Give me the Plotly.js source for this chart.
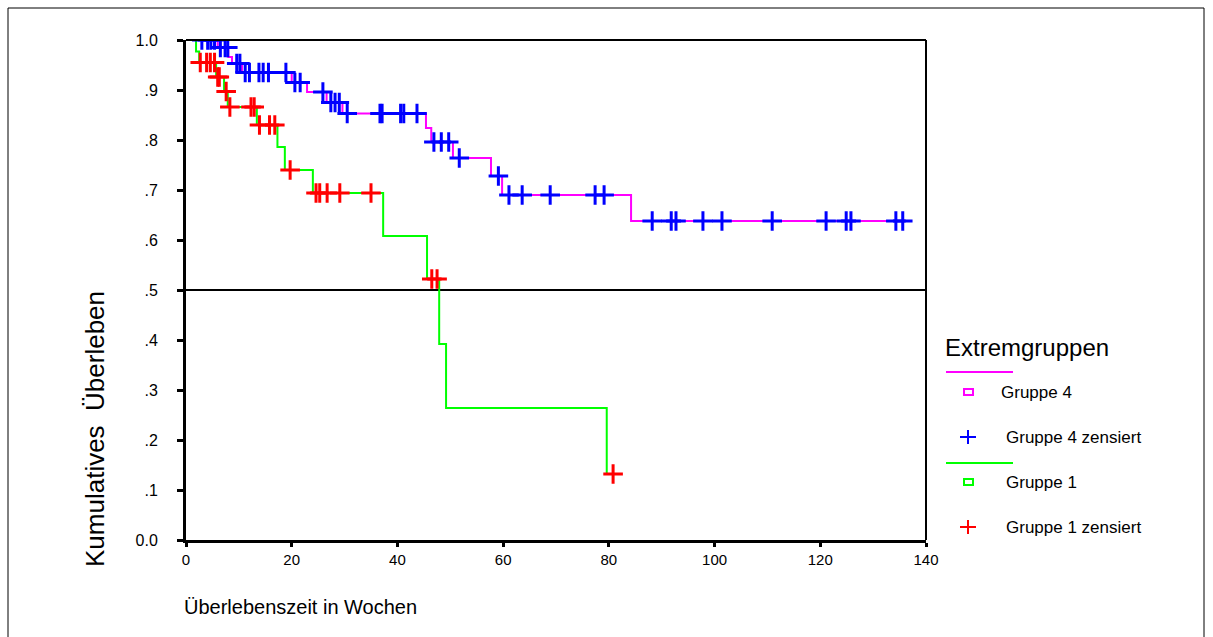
<!DOCTYPE html>
<html>
<head>
<meta charset="utf-8">
<script src="https://cdn.plot.ly/plotly-3.0.1.min.js"></script>
<style>
  html, body { margin: 0; padding: 0; background: #ffffff; }
  #chart { width: 1213px; height: 637px; }
</style>
</head>
<body>
<div id="chart"></div>
<script>
// ---------- data ----------
// Gruppe 4: Kaplan-Meier step function
var g4Time = [0, 6.0, 8.0, 8.7, 10.6, 20.0, 22.9, 26.6, 29.6, 45.4, 46.4, 50.5, 57.7, 59.8, 84.2, 135.6];
var g4Surv = [1.0, 0.985, 0.966, 0.953, 0.935, 0.915, 0.896, 0.875, 0.853, 0.824, 0.796, 0.764, 0.728, 0.690, 0.638, 0.638];
// Gruppe 4: censored cases
var g4CensTime = [3.0, 4.1, 4.7, 5.4, 6.5, 7.4, 7.9, 9.6, 10.2, 11.2, 12.0, 13.8, 14.6, 15.6, 18.9, 20.6, 21.6,
                  25.9, 27.4, 28.2, 29.0, 30.5, 36.7, 37.1, 40.6, 41.2, 43.7, 46.9, 48.3, 49.7, 51.7, 59.1,
                  61.1, 63.6, 68.9, 77.4, 79.1, 88.2, 91.8, 92.7, 97.8, 101.4, 110.9, 121.1, 124.9, 125.8, 134.3, 135.6];
var g4CensSurv = [1.0, 1.0, 1.0, 1.0, 0.985, 0.985, 0.985, 0.953, 0.953, 0.935, 0.935, 0.935, 0.935, 0.935, 0.935, 0.915, 0.915,
                  0.896, 0.875, 0.875, 0.875, 0.853, 0.853, 0.853, 0.853, 0.853, 0.853, 0.796, 0.796, 0.796, 0.764, 0.728,
                  0.690, 0.690, 0.690, 0.690, 0.690, 0.638, 0.638, 0.638, 0.638, 0.638, 0.638, 0.638, 0.638, 0.638, 0.638, 0.638];

// Gruppe 1: Kaplan-Meier step function
var g1Time = [0, 1.9, 2.5, 5.7, 7.2, 7.9, 13.4, 17.3, 18.7, 24.0, 37.3, 45.6, 47.9, 49.2, 79.6, 80.8];
var g1Surv = [1.0, 0.977, 0.955, 0.926, 0.897, 0.866, 0.830, 0.786, 0.740, 0.694, 0.608, 0.522, 0.392, 0.264, 0.132, 0.132];
// Gruppe 1: censored cases
var g1CensTime = [2.7, 3.9, 4.6, 5.4, 6.0, 6.3, 7.6, 8.3, 12.3, 12.9, 13.9, 15.8, 16.8, 19.7,
                  24.6, 25.3, 26.7, 29.1, 35.0, 46.5, 47.5, 80.8];
var g1CensSurv = [0.955, 0.955, 0.955, 0.955, 0.926, 0.926, 0.897, 0.866, 0.866, 0.866, 0.830, 0.830, 0.830, 0.740,
                  0.694, 0.694, 0.694, 0.694, 0.694, 0.522, 0.522, 0.132];

var medianLevel = 0.5;
var xTickVals = [0, 20, 40, 60, 80, 100, 120, 140];
var xTickText = ['0', '20', '40', '60', '80', '100', '120', '140'];
var yTickVals = [0, 0.1, 0.2, 0.3, 0.4, 0.5, 0.6, 0.7, 0.8, 0.9, 1.0];
var yTickText = ['0.0', '.1', '.2', '.3', '.4', '.5', '.6', '.7', '.8', '.9', '1.0'];

var legendTitle = 'Extremgruppen';
var legendLabels = ['Gruppe 4', 'Gruppe 4 zensiert', 'Gruppe 1', 'Gruppe 1 zensiert'];

// ---------- colours ----------
var MAGENTA = '#ff00ff', BLUE = '#0000ff', GREEN = '#00ff00', RED = '#ff0000';
var FONT = 'Liberation Sans, Arial, sans-serif';

// ---------- geometry helpers (page pixels -> paper coords) ----------
var W = 1213, H = 637;
var L = 186, R = 926, T = 40, B = 540;
function px(x) { return (x - L) / (R - L); }
function py(y) { return (B - y) / (B - T); }

var traces = [
  { x: g4Time, y: g4Surv, mode: 'lines', line: { color: MAGENTA, width: 2, shape: 'hv' }, hoverinfo: 'skip' },
  { x: g1Time, y: g1Surv, mode: 'lines', line: { color: GREEN, width: 2, shape: 'hv' }, hoverinfo: 'skip' },
  { x: g4CensTime, y: g4CensSurv, mode: 'markers',
    marker: { symbol: 'cross-thin', size: 14, color: BLUE, line: { color: BLUE, width: 3 } } },
  { x: g1CensTime, y: g1CensSurv, mode: 'markers',
    marker: { symbol: 'cross-thin', size: 14, color: RED, line: { color: RED, width: 3 } } }
];

var shapes = [
  // outer frame
  { type: 'rect', xref: 'paper', yref: 'paper', x0: px(8), x1: px(1204), y0: py(660), y1: py(8),
    line: { color: '#000', width: 1 } },
  // top & right plot border
  { type: 'line', xref: 'paper', yref: 'paper', x0: 0, x1: 1, y0: 1, y1: 1, line: { color: '#000', width: 2 } },
  { type: 'line', xref: 'paper', yref: 'paper', x0: 1, x1: 1, y0: 0, y1: 1, line: { color: '#000', width: 2 } },
  // median reference line
  { type: 'line', xref: 'paper', yref: 'y', x0: 0, x1: 1, y0: medianLevel, y1: medianLevel,
    line: { color: '#000', width: 2 }, layer: 'below' },
  // legend glyphs
  { type: 'line', xref: 'paper', yref: 'paper', x0: px(946), x1: px(1013), y0: py(372), y1: py(372), line: { color: MAGENTA, width: 2 } },
  { type: 'rect', xref: 'paper', yref: 'paper', x0: px(964), x1: px(973), y0: py(395), y1: py(389), line: { color: MAGENTA, width: 2 } },
  { type: 'line', xref: 'paper', yref: 'paper', x0: px(960), x1: px(976), y0: py(437), y1: py(437), line: { color: BLUE, width: 2 } },
  { type: 'line', xref: 'paper', yref: 'paper', x0: px(968), x1: px(968), y0: py(430), y1: py(444), line: { color: BLUE, width: 2 } },
  { type: 'line', xref: 'paper', yref: 'paper', x0: px(946), x1: px(1013), y0: py(463), y1: py(463), line: { color: GREEN, width: 2 } },
  { type: 'rect', xref: 'paper', yref: 'paper', x0: px(964), x1: px(973), y0: py(485), y1: py(479), line: { color: GREEN, width: 2 } },
  { type: 'line', xref: 'paper', yref: 'paper', x0: px(960), x1: px(976), y0: py(527), y1: py(527), line: { color: RED, width: 2 } },
  { type: 'line', xref: 'paper', yref: 'paper', x0: px(968), x1: px(968), y0: py(520), y1: py(534), line: { color: RED, width: 2 } }
];

function ann(text, x, y, size, extra) {
  var a = { text: text, xref: 'paper', yref: 'paper', x: px(x), y: py(y), showarrow: false,
            xanchor: 'left', yanchor: 'middle', font: { family: FONT, size: size, color: '#000' } };
  if (extra) for (var k in extra) a[k] = extra[k];
  return a;
}

var annotations = [
  ann(legendTitle, 943, 347, 24),
  ann(legendLabels[0], 999, 392, 17),
  ann(legendLabels[1], 1004, 437, 17),
  ann(legendLabels[2], 1004, 482, 17),
  ann(legendLabels[3], 1004, 527, 17),
  ann('Überlebenszeit in Wochen', 182, 607, 20),
  ann('Kumulatives  Überleben', 95, 429, 26, { textangle: -90, xanchor: 'center', yanchor: 'middle' })
];

var layout = {
  width: W, height: H,
  margin: { l: L, r: W - R, t: T, b: H - B, pad: 0 },
  paper_bgcolor: '#ffffff', plot_bgcolor: '#ffffff',
  showlegend: false,
  font: { family: FONT, color: '#000' },
  xaxis: {
    range: [0, 140], tickmode: 'array', tickvals: xTickVals, ticktext: xTickText,
    showgrid: false, zeroline: false, showline: true, linecolor: '#000', linewidth: 3,
    ticks: 'outside', ticklen: 4, tickwidth: 3, tickcolor: '#000',
    tickfont: { family: FONT, size: 15, color: '#000' }
  },
  yaxis: {
    range: [0, 1], tickmode: 'array', tickvals: yTickVals, ticktext: yTickText,
    showgrid: false, zeroline: false, showline: true, linecolor: '#000', linewidth: 3,
    ticks: 'outside', ticklen: 6, tickwidth: 3, tickcolor: '#000',
    ticklabelstandoff: 16,
    tickfont: { family: FONT, size: 16, color: '#000' }
  },
  shapes: shapes,
  annotations: annotations
};

Plotly.newPlot('chart', traces, layout, { displayModeBar: false, staticPlot: true });
</script>
</body>
</html>
